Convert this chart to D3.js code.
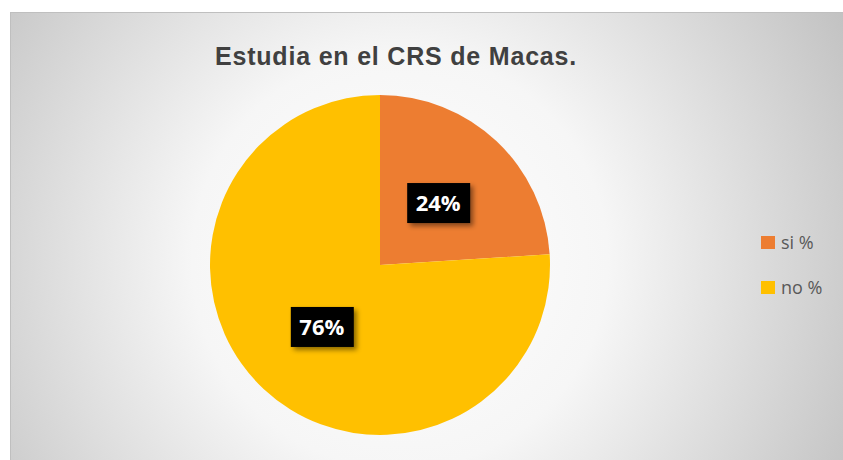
<!DOCTYPE html>
<html>
<head>
<meta charset="utf-8">
<script src="https://cdn.jsdelivr.net/npm/d3@7"></script>
<style>
  body { margin: 0; background: #fff; }
</style>
</head>
<body>
<script>
'use strict';

const categories = ["si %", "no %"];
const values = [24, 76];
const colors = ["#ED7D31", "#FFC000"];
const chartTitle = "Estudia en el CRS de Macas.";

const width = 843;
const height = 460;

const svg = d3.select('body')
  .append('svg')
  .attr('width', width)
  .attr('height', height);

const defs = svg.append('defs');

// radial background, light in middle, grey at corners
const grad = defs.append('radialGradient')
  .attr('id', 'bg')
  .attr('gradientUnits', 'userSpaceOnUse')
  .attr('cx', 400).attr('cy', 260).attr('r', 520);
grad.append('stop').attr('offset', '0%').attr('stop-color', '#ffffff');
grad.append('stop').attr('offset', '40%').attr('stop-color', '#f6f6f6');
grad.append('stop').attr('offset', '100%').attr('stop-color', '#c0c0c0');

const shadow = defs.append('filter')
  .attr('id', 'shadow')
  .attr('x', '-30%').attr('y', '-30%')
  .attr('width', '160%').attr('height', '180%');
shadow.append('feDropShadow')
  .attr('dx', 3).attr('dy', 3)
  .attr('stdDeviation', 2.5)
  .attr('flood-color', '#000')
  .attr('flood-opacity', 0.45);

svg.append('rect')
  .attr('x', 10.5).attr('y', 12.5)
  .attr('width', width - 10)
  .attr('height', height - 12)
  .attr('fill', 'url(#bg)')
  .attr('stroke', '#bfbfbf')
  .attr('stroke-width', 1);

svg.append('text')
  .attr('x', 396)
  .attr('y', 65)
  .attr('text-anchor', 'middle')
  .style('font-family', 'Liberation Sans, Arial, sans-serif')
  .style('font-weight', 'bold')
  .style('font-size', '25px')
  .style('letter-spacing', '0.8px')
  .style('fill', '#404040')
  .text(chartTitle);

const cx = 380, cy = 265, radius = 170;

const pie = d3.pie().sort(null).value(d => d);
const arcs = pie(values);
const arc = d3.arc().innerRadius(0).outerRadius(radius);
const labelArc = d3.arc().innerRadius(radius * 0.5).outerRadius(radius * 0.5);

const g = svg.append('g')
  .attr('transform', 'translate(' + cx + ',' + cy + ')');

g.selectAll('.slice')
  .data(arcs)
  .enter()
  .append('path')
  .attr('class', 'slice')
  .attr('d', arc)
  .attr('fill', (d, i) => colors[i]);

const labels = g.selectAll('.lbl')
  .data(arcs)
  .enter()
  .append('g')
  .attr('class', 'lbl')
  .attr('transform', d => {
    let c = labelArc.centroid(d);
    return 'translate(' + c[0] + ',' + c[1] + ')';
  });

labels.append('rect')
  .attr('x', -31).attr('y', -20)
  .attr('width', 63).attr('height', 40)
  .attr('fill', '#000')
  .attr('filter', 'url(#shadow)');

labels.append('text')
  .attr('text-anchor', 'middle')
  .attr('dy', 8)
  .style('font-family', 'Open Sans, sans-serif')
  .style('font-weight', 'bold')
  .style('font-size', '22px')
  .style('fill', '#fff')
  .text((d, i) => values[i] + '%');

// legend
const legend = svg.append('g')
  .attr('transform', 'translate(761, 236)');

const items = legend.selectAll('.item')
  .data(categories)
  .enter()
  .append('g')
  .attr('class', 'item')
  .attr('transform', (d, i) => 'translate(0,' + (i * 45) + ')');

items.append('rect')
  .attr('width', 14).attr('height', 13)
  .attr('fill', (d, i) => colors[i]);

items.append('text')
  .attr('x', 20)
  .attr('y', 13)
  .style('font-family', 'Open Sans, sans-serif')
  .style('font-size', '18px')
  .style('fill', '#595959')
  .text(d => d);
</script>
</body>
</html>
